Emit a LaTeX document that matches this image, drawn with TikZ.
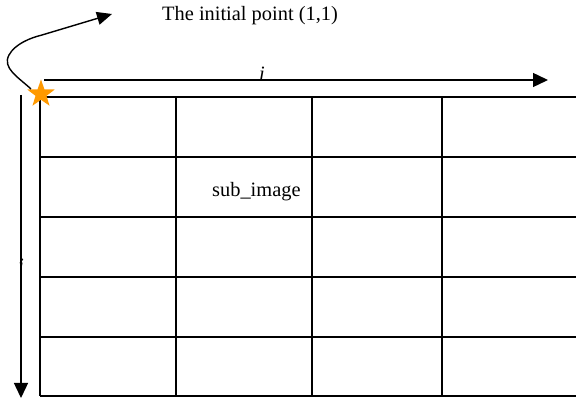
\documentclass[tikz,border=0pt]{standalone}
\usepackage{fontspec}
\setmainfont{Liberation Serif}
\usetikzlibrary{arrows.meta,shapes.geometric}
\definecolor{starorange}{RGB}{255,153,0}
\tikzset{
  gridline/.style={line width=1.8pt, black},
  axisarrow/.style={line width=1.4pt, black, -{Triangle[length=15pt,width=14pt]}},
  lbl/.style={font=\fontsize{20.4}{24}\selectfont, inner sep=0pt},
}
\begin{document}
\begin{tikzpicture}[x=1pt,y=-1pt]
\useasboundingbox (0,0) rectangle (576,403);
\fill[white] (0,0) rectangle (576,403);
% grid
\foreach \yy in {97,157,217,277,337,396} \draw[gridline] (40,\yy) -- (576,\yy);
\foreach \xx in {40,176,312,442} \draw[gridline] (\xx,97) -- (\xx,396);
% coordinates
\coordinate (istart) at (44,80);
\coordinate (iend) at (548,80);
\coordinate (jstart) at (21,95);
\coordinate (jend) at (21,398);
\draw[axisarrow] (istart) -- (iend);
\draw[axisarrow] (jstart) -- (jend);
% labels
\node[lbl, anchor=base west] (ilabel) at (259,81) {\textit{i}};
\begin{scope}
\clip (10,250) rectangle (35,268);
\node[lbl, anchor=base] (jlabel) at (21,273) {\textit{j}};
\end{scope}
\node[lbl, anchor=base west] (sub) at (212,197) {sub\_image};
\node[lbl, anchor=base west] (title) at (162,21) {The initial point (1,1)};
% star
\node[star, star points=5, star point ratio=2.5, minimum size=29pt, inner sep=0pt, fill=starorange, draw=none] (star) at (41,94) {};
\coordinate (cstart) at (31,89);
\coordinate (cbend) at (42,35);
\coordinate (ctip) at (112,14);
\draw[line width=1.4pt, -{Triangle[length=15pt,width=13pt]}] (cstart) .. controls (18,77) and (2,68) .. (9,55) .. controls (15,44) and (30,38) .. (cbend) -- (ctip);
\end{tikzpicture}
\end{document}
